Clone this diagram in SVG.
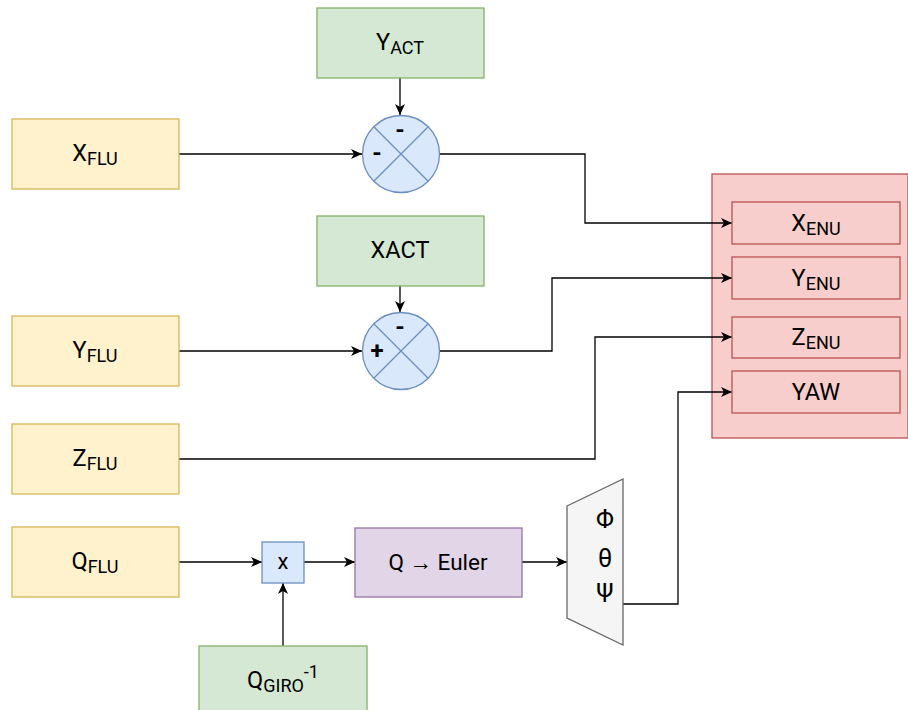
<svg xmlns="http://www.w3.org/2000/svg" width="908" height="710" viewBox="0 0 908 710">
  <style>
    text { font-family: Roboto, "Noto Sans", "Liberation Sans", sans-serif; fill: #000; }
    .lbl { font-size: 23.5px; text-anchor: middle; }
    .sub { font-size: 18px; }
    .greek { font-size: 25px; }
    .sign { font-size: 24px; font-weight: bold; text-anchor: middle; }
    .in { fill: #fff2cc; stroke: #d6b656; stroke-width: 1.3; }
    .ref { fill: #d5e8d4; stroke: #82b366; stroke-width: 1.3; }
    .out { fill: #f8cecc; stroke: #b85450; stroke-width: 1.3; }
    .op { fill: #dae8fc; stroke: #6c8ebf; stroke-width: 1.3; }
    .conv { fill: #e1d5e7; stroke: #9673a6; stroke-width: 1.3; }
    .demux { fill: #f5f5f5; stroke: #666666; stroke-width: 1.3; }
    .wire { fill: none; stroke: #000; stroke-width: 1.3; marker-end: url(#arrow); }
  </style>
  <defs>
    <marker id="arrow" markerUnits="userSpaceOnUse" markerWidth="12" markerHeight="10" refX="11" refY="5" orient="auto">
      <path d="M0,0 L11,5 L0,10 L3,5 Z" fill="#000"/>
    </marker>
  </defs>

  <!-- output container -->
  <g id="enu-frame">
    <rect class="out" x="712" y="174" width="196" height="264"/>
  </g>

  <!-- connectors -->
  <g id="connectors">
    <path class="wire" d="M400,78 L400,115"/>
    <path class="wire" d="M179,154 L362,154"/>
    <path class="wire" d="M440,154 L585,154 L585,223 L732,223"/>
    <path class="wire" d="M400,286 L400,312"/>
    <path class="wire" d="M179,351 L362,351"/>
    <path class="wire" d="M440,351 L552,351 L552,278 L732,278"/>
    <path class="wire" d="M179,459 L595,459 L595,337 L732,337"/>
    <path class="wire" d="M179,562 L262,562"/>
    <path class="wire" d="M283,646 L283,583"/>
    <path class="wire" d="M304,562 L355,562"/>
    <path class="wire" d="M522,562 L567,562"/>
    <path class="wire" d="M623,604 L678,604 L678,392 L732,392"/>
  </g>

  <!-- inputs -->
  <g id="x-flu">
    <rect class="in" x="12" y="119" width="167" height="70"/>
    <text class="lbl" x="95" y="161">X<tspan class="sub" dy="3.5">FLU</tspan></text>
  </g>
  <g id="y-flu">
    <rect class="in" x="12" y="316" width="167" height="70"/>
    <text class="lbl" x="95" y="358">Y<tspan class="sub" dy="3.5">FLU</tspan></text>
  </g>
  <g id="z-flu">
    <rect class="in" x="12" y="424" width="167" height="70"/>
    <text class="lbl" x="95" y="466">Z<tspan class="sub" dy="3.5">FLU</tspan></text>
  </g>
  <g id="q-flu">
    <rect class="in" x="12" y="527" width="167" height="70"/>
    <text class="lbl" x="95" y="569">Q<tspan class="sub" dy="3.5">FLU</tspan></text>
  </g>

  <!-- references -->
  <g id="y-act">
    <rect class="ref" x="317" y="8" width="167" height="70"/>
    <text class="lbl" x="400" y="50">Y<tspan class="sub" dy="3.5">ACT</tspan></text>
  </g>
  <g id="x-act">
    <rect class="ref" x="317" y="216" width="167" height="70"/>
    <text class="lbl" x="400" y="258">XACT</text>
  </g>
  <g id="q-giro-inv">
    <rect class="ref" x="199" y="646" width="168" height="70"/>
    <text class="lbl" x="283" y="688">Q<tspan class="sub" dy="3.5">GIRO</tspan><tspan class="sub" dy="-14">-1</tspan></text>
  </g>

  <!-- summing junctions -->
  <g id="sum-y">
    <circle class="op" cx="401" cy="154" r="38.5"/>
    <path class="op" d="M373.8,126.8 L428.2,181.2 M428.2,126.8 L373.8,181.2"/>
    <text class="sign" x="400" y="138">-</text>
    <text class="sign" x="377" y="161">-</text>
  </g>
  <g id="sum-x">
    <circle class="op" cx="401" cy="351" r="38.5"/>
    <path class="op" d="M373.8,323.8 L428.2,378.2 M428.2,323.8 L373.8,378.2"/>
    <text class="sign" x="400" y="335">-</text>
    <text class="sign" x="377" y="359">+</text>
  </g>

  <!-- quaternion product -->
  <g id="q-mult">
    <rect class="op" x="262" y="542" width="42" height="41"/>
    <text class="lbl" x="283" y="569" style="font-size:22px">x</text>
  </g>
  <g id="q-to-euler">
    <rect class="conv" x="355" y="528" width="167" height="69"/>
    <text class="lbl" x="438" y="570" style="font-size:22.5px">Q → Euler</text>
  </g>

  <!-- angle demux -->
  <g id="euler-demux">
    <path class="demux" d="M567,506 L623,479 L623,645 L567,618 Z"/>
    <text class="lbl greek" x="605" y="528">Φ</text>
    <text class="lbl greek" x="605" y="567">θ</text>
    <text class="lbl greek" x="605" y="602">Ψ</text>
  </g>

  <!-- outputs -->
  <g id="x-enu">
    <rect class="out" x="732" y="202" width="168" height="42"/>
    <text class="lbl" x="816" y="231">X<tspan class="sub" dy="3.5">ENU</tspan></text>
  </g>
  <g id="y-enu">
    <rect class="out" x="732" y="257" width="168" height="42"/>
    <text class="lbl" x="816" y="286">Y<tspan class="sub" dy="3.5">ENU</tspan></text>
  </g>
  <g id="z-enu">
    <rect class="out" x="732" y="317" width="168" height="41"/>
    <text class="lbl" x="816" y="345">Z<tspan class="sub" dy="3.5">ENU</tspan></text>
  </g>
  <g id="yaw">
    <rect class="out" x="732" y="371" width="168" height="42"/>
    <text class="lbl" x="816" y="400">YAW</text>
  </g>
</svg>
